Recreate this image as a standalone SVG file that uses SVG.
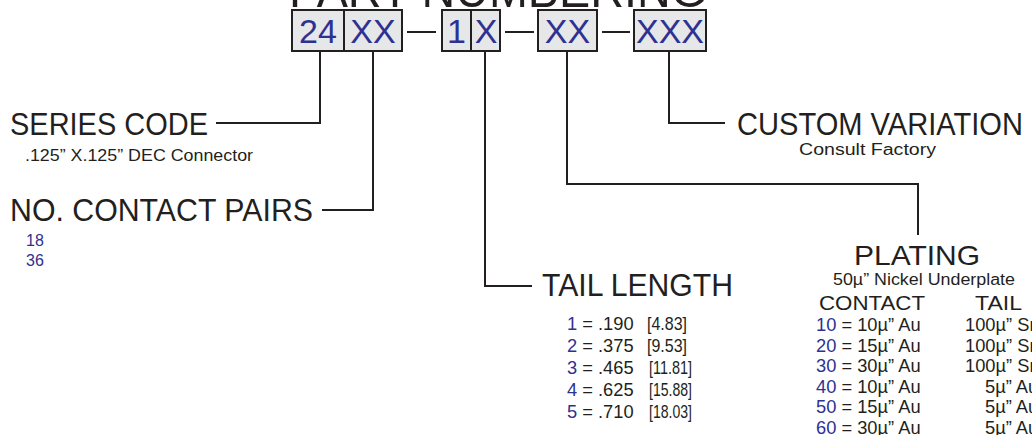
<svg xmlns="http://www.w3.org/2000/svg" width="1032" height="435" viewBox="0 0 1032 435">
<style>
text{font-family:"Liberation Sans",Arial,Helvetica,sans-serif;fill:#231f20}
.b{fill:#2e3192}
.box{fill:#e6e7e8;stroke:#231f20;stroke-width:2}
.ln{fill:none;stroke:#231f20;stroke-width:2}
.big{font-size:31px}
.code{font-size:34px;fill:#2e3192;text-anchor:middle}
.sm{font-size:16px}
.row{font-size:18.3px}
.nar{font-size:18.5px}
</style>
<rect width="1032" height="435" fill="#ffffff"/>
<g id="title"><text x="289" y="7" font-size="50" textLength="418" lengthAdjust="spacingAndGlyphs">PART NUMBERING</text></g>
<g id="code-boxes">
<rect class="box" x="292" y="10" width="110" height="41"/>
<line class="ln" x1="344" y1="10" x2="344" y2="51"/>
<text class="code" x="318" y="43">24</text>
<text class="code" x="373" y="43">XX</text>
<rect class="box" x="442" y="10" width="58" height="41"/>
<line class="ln" x1="471" y1="10" x2="471" y2="51"/>
<text class="code" x="456.5" y="43">1</text>
<text class="code" x="486" y="43">X</text>
<rect class="box" x="538" y="10" width="59" height="41"/>
<text class="code" x="567.5" y="43">XX</text>
<rect class="box" x="634" y="10" width="72" height="41"/>
<text class="code" x="670" y="43">XXX</text>
</g>
<g id="connectors">
<line class="ln" x1="407" y1="32" x2="436" y2="32"/>
<line class="ln" x1="505" y1="32" x2="534" y2="32"/>
<line class="ln" x1="602" y1="32" x2="630" y2="32"/>
<polyline class="ln" points="320,51 320,123 216,123"/>
<polyline class="ln" points="373,51 373,210 322,210"/>
<polyline class="ln" points="485,51 485,286 532,286"/>
<polyline class="ln" points="567,51 567,184 918,184 918,235"/>
<polyline class="ln" points="669,51 669,123 725,123"/>
</g>
<g id="series-code">
<text class="big" x="10" y="135" textLength="198" lengthAdjust="spacingAndGlyphs">SERIES CODE</text>
<text class="sm" x="25" y="161" textLength="228" lengthAdjust="spacingAndGlyphs">.125” X.125” DEC Connector</text>
</g>
<g id="contact-pairs">
<text class="big" x="10" y="221" textLength="303" lengthAdjust="spacingAndGlyphs">NO. CONTACT PAIRS</text>
<text class="sm b" x="26" y="246">18</text>
<text class="sm b" x="26" y="266">36</text>
</g>
<g id="custom-variation">
<text class="big" x="737" y="135" textLength="286" lengthAdjust="spacingAndGlyphs">CUSTOM VARIATION</text>
<text class="sm" x="799" y="155" textLength="137" lengthAdjust="spacingAndGlyphs">Consult Factory</text>
</g>
<g id="tail-length">
<text class="big" x="542" y="296" textLength="191" lengthAdjust="spacingAndGlyphs">TAIL LENGTH</text>
<g class="row">
<text x="567" y="330"><tspan class="b">1</tspan> = .190</text>
<text x="567" y="352"><tspan class="b">2</tspan> = .375</text>
<text x="567" y="374"><tspan class="b">3</tspan> = .465</text>
<text x="567" y="396"><tspan class="b">4</tspan> = .625</text>
<text x="567" y="418"><tspan class="b">5</tspan> = .710</text>
</g>
<g class="nar">
<text x="647" y="330" textLength="40" lengthAdjust="spacingAndGlyphs">[4.83]</text>
<text x="647" y="352" textLength="40" lengthAdjust="spacingAndGlyphs">[9.53]</text>
<text x="649" y="374" textLength="43" lengthAdjust="spacingAndGlyphs">[11.81]</text>
<text x="649" y="396" textLength="43" lengthAdjust="spacingAndGlyphs">[15.88]</text>
<text x="649" y="418" textLength="43" lengthAdjust="spacingAndGlyphs">[18.03]</text>
</g>
</g>
<g id="plating">
<text x="854" y="265" font-size="28" textLength="126" lengthAdjust="spacingAndGlyphs">PLATING</text>
<text x="833" y="285" font-size="16" textLength="182" lengthAdjust="spacingAndGlyphs">50µ” Nickel Underplate</text>
<text x="819" y="310" font-size="21" textLength="106" lengthAdjust="spacingAndGlyphs">CONTACT</text>
<text x="975" y="310" font-size="21" textLength="47" lengthAdjust="spacingAndGlyphs">TAIL</text>
<g class="row">
<text x="816" y="331"><tspan class="b">10</tspan> = 10µ” Au</text>
<text x="816" y="352"><tspan class="b">20</tspan> = 15µ” Au</text>
<text x="816" y="372"><tspan class="b">30</tspan> = 30µ” Au</text>
<text x="816" y="393"><tspan class="b">40</tspan> = 10µ” Au</text>
<text x="816" y="413"><tspan class="b">50</tspan> = 15µ” Au</text>
<text x="816" y="434"><tspan class="b">60</tspan> = 30µ” Au</text>
<text x="965" y="331">100µ” Sn</text>
<text x="965" y="352">100µ” Sn</text>
<text x="965" y="372">100µ” Sn</text>
<text x="985" y="393">5µ” Au</text>
<text x="985" y="413">5µ” Au</text>
<text x="985" y="434">5µ” Au</text>
</g>
</g>
</svg>
